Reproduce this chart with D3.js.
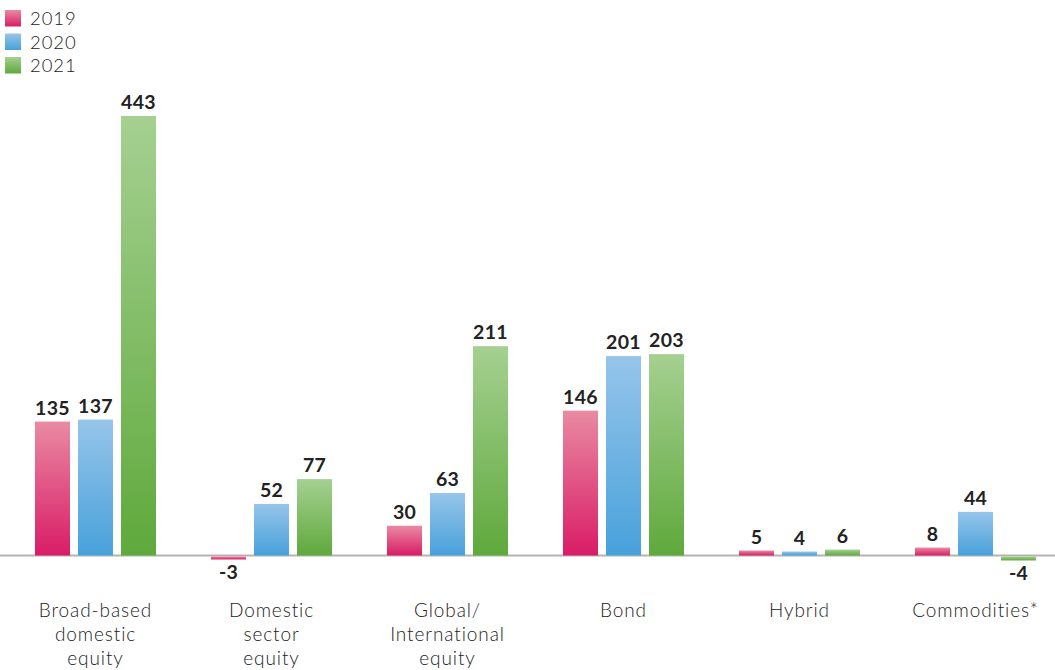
<!DOCTYPE html>
<html><head><meta charset="utf-8">
<script src="https://cdn.jsdelivr.net/npm/d3@7"></script>
<style>
body{margin:0;background:#fff;}
svg{display:block;font-family:Lato, "Open Sans", sans-serif;}
</style></head><body>
<svg id="c" width="1055" height="670"></svg>
<script>
const categories = ["Broad-based domestic equity","Domestic sector equity","Global/ International equity","Bond","Hybrid","Commodities*"];
const categoryLines = [["Broad-based","domestic","equity"],["Domestic","sector","equity"],["Global/","International","equity"],["Bond"],["Hybrid"],["Commodities*"]];
const years = ["2019","2020","2021"];
const values2019 = [135,-3,30,146,5,8];
const values2020 = [137,52,63,201,4,44];
const values2021 = [443,77,211,203,6,-4];
const seriesValues = [values2019, values2020, values2021];
const colorsTop = ["#e98aa2","#96c5ea","#a5d091"];
const colorsBottom = ["#d91c66","#48a1db","#5fa93c"];

const svg = d3.select("#c");
const defs = svg.append("defs");
years.forEach((y,i)=>{
  const g = defs.append("linearGradient").attr("id","g"+i).attr("x1",0).attr("y1",0).attr("x2",0).attr("y2",1);
  g.append("stop").attr("offset","0%").attr("stop-color",colorsTop[i]);
  g.append("stop").attr("offset","100%").attr("stop-color",colorsBottom[i]);
});

const x0 = d3.scaleBand().domain(categories).range([7.5,1063.5]).padding(0);
const x1 = d3.scaleBand().domain(years).range([27.5,148.5]).paddingInner(8/43).paddingOuter(0);
const y = d3.scaleLinear().domain([0,443]).range([555.5,116]);

// baseline
svg.append("line").attr("x1",0).attr("x2",1055).attr("y1",y(0)).attr("y2",y(0))
  .attr("stroke","#b3b3b3").attr("stroke-width",2);

const groups = svg.selectAll("g.cat").data(categories).join("g").attr("class","cat")
  .attr("transform",d=>`translate(${x0(d)},0)`);

groups.each(function(cat,ci){
  const g = d3.select(this);
  years.forEach((yr,si)=>{
    const v = seriesValues[si][ci];
    const top = Math.min(y(v),y(0)), h = Math.abs(y(v)-y(0));
    g.append("rect").attr("x",x1(yr)).attr("y",v>=0?top:y(0)+1).attr("width",x1.bandwidth())
      .attr("height",h).attr("fill",`url(#g${si})`);
    g.append("text").attr("x",x1(yr)+x1.bandwidth()/2)
      .attr("y",v>=0?y(v)-7:y(v)+21)
      .attr("text-anchor","middle").attr("font-size",19.5).attr("font-weight",700).attr("fill","#222")
      .attr("letter-spacing",0.3)
      .text(v);
  });
});

// category axis labels
const xAxis = d3.axisBottom(x0).tickSize(0).tickPadding(0).tickFormat("");
const ax = svg.append("g").attr("transform",`translate(0,${y(0)})`).call(xAxis);
ax.select(".domain").remove();
ax.selectAll(".tick").each(function(d,i){
  const t = d3.select(this).append("text").attr("text-anchor","middle")
    .attr("font-size",19).attr("font-weight",300).attr("letter-spacing",0.9)
    .attr("fill","#222").attr("font-family","Lato, sans-serif");
  categoryLines[i].forEach((ln,k)=>{
    t.append("tspan").attr("x",0).attr("y",61+k*24).text(ln);
  });
});

// legend
const leg = svg.append("g");
years.forEach((yr,i)=>{
  leg.append("rect").attr("x",5).attr("y",10+i*23.5).attr("width",16).attr("height",16.5).attr("fill",`url(#g${i})`);
  leg.append("text").attr("x",30).attr("y",25+i*23.5).attr("font-size",18.5).attr("font-weight",300)
    .attr("letter-spacing",0.9).attr("fill","#222").text(yr);
});
</script>
</body></html>
